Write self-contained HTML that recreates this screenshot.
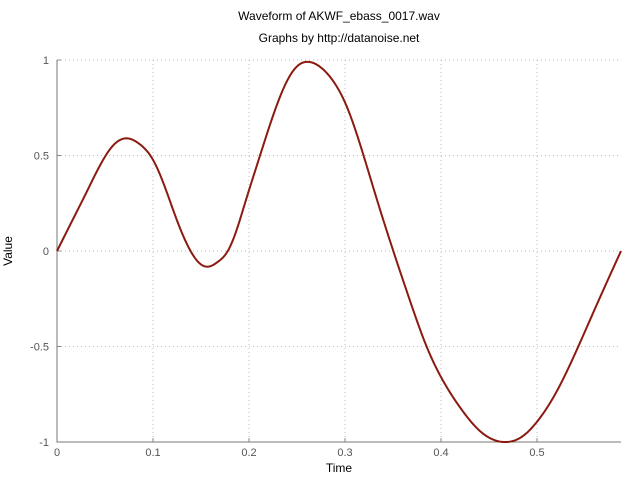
<!DOCTYPE html>
<html><head><meta charset="utf-8"><style>
body{margin:0;background:#fff;}
svg text{font-family:"Liberation Sans",sans-serif;}
</style></head><body>
<svg id="chart" width="640" height="480">
<text x="339" y="20" font-size="12" text-anchor="middle">Waveform of AKWF_ebass_0017.wav</text>
<text x="339" y="42" font-size="12" text-anchor="middle">Graphs by http://datanoise.net</text>
<text x="339" y="472" font-size="12" text-anchor="middle">Time</text>
<text x="12" y="251" font-size="12" text-anchor="middle" transform="rotate(-90 12 251)">Value</text>
<g id="grid"></g><g id="axes"></g><g id="series"></g>
</svg>
<script>
const xTicks=[0,0.1,0.2,0.3,0.4,0.5];
const xTickLabels=["0","0.1","0.2","0.3","0.4","0.5"];
const yTicks=[1,0.5,0,-0.5,-1];
const yTickLabels=["1","0.5","0","-0.5","-1"];
const times=[0,0.015,0.03,0.045,0.058,0.0726,0.086,0.0997,0.112,0.125,0.137,0.1476,0.1576,0.168,0.176,0.185,0.1958,0.2115,0.2253,0.2392,0.2497,0.2625,0.2774,0.2913,0.3007,0.3156,0.3326,0.3503,0.367,0.385,0.4,0.42,0.44,0.4684,0.485,0.5,0.52,0.543,0.565,0.5875];
const values=[0,0.15,0.3,0.45,0.55,0.59,0.56,0.48,0.34,0.16,0.02,-0.06,-0.082,-0.055,-0.015,0.08,0.25,0.5,0.712,0.886,0.965,0.99,0.95,0.862,0.77,0.56,0.28,0,-0.25,-0.5,-0.66,-0.82,-0.94,-1,-0.97,-0.894,-0.74,-0.5,-0.25,0];
const X0=57,X1=621,Y0=442,Y1=60,xMax=0.5875;
const xs=t=>X0+t/xMax*(X1-X0);
const ys=v=>Y0-(v+1)/2*(Y0-Y1);
const NS="http://www.w3.org/2000/svg";
function mk(tag,attrs,parent){const e=document.createElementNS(NS,tag);for(const k in attrs)e.setAttribute(k,attrs[k]);document.getElementById(parent).appendChild(e);return e;}
xTicks.forEach((t,i)=>{
 const g=mk('line',{x1:xs(t),x2:xs(t),y1:Y1,y2:Y0,stroke:'#bbb','stroke-dasharray':'1,3'},'grid');
 
 
 const tk=mk('line',{x1:xs(t),x2:xs(t),y1:Y0,y2:Y0-4,stroke:'#888'},'axes');
 
 
 const tx=mk('text',{x:xs(t),y:Y0+14,'font-size':11,fill:'#555','text-anchor':'middle'},'axes');
 tx.textContent=xTickLabels[i];
 
 
});
yTicks.forEach((v,i)=>{
 const g=mk('line',{x1:X0,x2:X1,y1:ys(v),y2:ys(v),stroke:'#bbb','stroke-dasharray':'1,3'},'grid');
 
 
 const tk=mk('line',{x1:X0,x2:X0+4,y1:ys(v),y2:ys(v),stroke:'#888'},'axes');
 
 
 const tx=mk('text',{x:X0-8,y:ys(v)+4,'font-size':11,fill:'#555','text-anchor':'end'},'axes');
 tx.textContent=yTickLabels[i];
 
 
});
const ax=mk('path',{d:`M${X0} ${Y1}V${Y0}H${X1}`,fill:'none',stroke:'#777','stroke-width':1},'axes');


// natural cubic spline through data points, sampled per pixel
const n=times.length;
const h=[];for(let i=0;i<n-1;i++)h.push(times[i+1]-times[i]);
const a=new Array(n).fill(0),b=new Array(n).fill(1),c=new Array(n).fill(0),r=new Array(n).fill(0);
for(let i=1;i<n-1;i++){a[i]=h[i-1];b[i]=2*(h[i-1]+h[i]);c[i]=h[i];
 r[i]=6*((values[i+1]-values[i])/h[i]-(values[i]-values[i-1])/h[i-1]);}
for(let i=1;i<n;i++){const w=a[i]/b[i-1];b[i]-=w*c[i-1];r[i]-=w*r[i-1];}
const M=new Array(n).fill(0);
M[n-1]=r[n-1]/b[n-1];
for(let i=n-2;i>=0;i--)M[i]=(r[i]-c[i]*M[i+1])/b[i];
M[0]=0;M[n-1]=0;
function S(t){let i=0;while(i<n-2&&t>times[i+1])i++;
 const hh=h[i],A=(times[i+1]-t)/hh,B=(t-times[i])/hh;
 return A*values[i]+B*values[i+1]+((A*A*A-A)*M[i]+(B*B*B-B)*M[i+1])*hh*hh/6;}
let d='';
const tEnd=times[n-1];
for(let k=0;k<=600;k++){const t=tEnd*k/600;d+=(k?'L':'M')+xs(t).toFixed(2)+' '+ys(S(t)).toFixed(2);}
const line=mk('path',{d:d,fill:'none',stroke:'#8b1a10','stroke-width':2,'stroke-linejoin':'round'},'series');


</script>
</body></html>
